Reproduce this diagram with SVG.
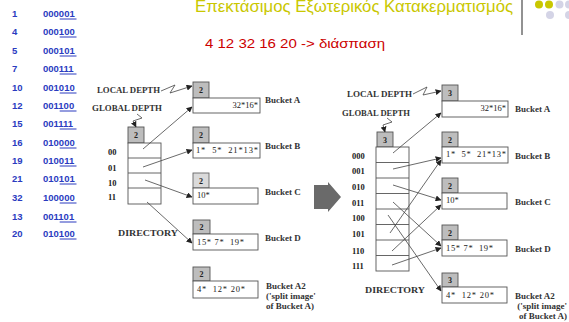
<svg xmlns="http://www.w3.org/2000/svg" width="569" height="322" viewBox="0 0 569 322">
<style>
.num{font-family:"Liberation Sans",Arial,sans-serif;font-weight:bold;font-size:9.5px;fill:#2a3bbf}
.ul{stroke:#2a3bbf;stroke-width:1}
.lbl{font-family:"Liberation Serif","Times New Roman",serif;font-weight:bold;font-size:7.5px;fill:#333}
.bk{font-family:"Liberation Serif","Times New Roman",serif;font-weight:bold;font-size:9px;fill:#333}
.dt{font-family:"Liberation Serif","Times New Roman",serif;font-size:8.5px;fill:#222;white-space:pre}
.dep{font-family:"Liberation Serif","Times New Roman",serif;font-weight:bold;font-size:8px;fill:#222;text-anchor:middle}
.dbox{fill:#bdbdbd;stroke:#555;stroke-width:0.9}
.dboxl{fill:#dadada;stroke:#666;stroke-width:0.9}
.box{fill:#fff;stroke:#555;stroke-width:0.9}
.arr{stroke:#444;stroke-width:0.8;fill:none;marker-end:url(#ah)}
.zz{stroke:#444;stroke-width:0.8;fill:none;marker-end:url(#ah)}
</style>
<defs>
<marker id="ah" viewBox="0 0 10 10" refX="9" refY="5" markerWidth="6" markerHeight="6" orient="auto" markerUnits="userSpaceOnUse">
<path d="M0,0 L10,5 L0,10 z" fill="#222"/>
</marker>
</defs>
<rect width="569" height="322" fill="#fff"/>

<g id="table">
<text class="num" x="12" y="16.5">1</text><text class="num" x="43" y="16.5">000001</text><line class="ul" x1="59.7" y1="19" x2="76.5" y2="19"/>
<text class="num" x="12" y="34.5">4</text><text class="num" x="43" y="34.5">000100</text><line class="ul" x1="59.7" y1="37" x2="76.5" y2="37"/>
<text class="num" x="12" y="53.5">5</text><text class="num" x="43" y="53.5">000101</text><line class="ul" x1="59.7" y1="56" x2="76.5" y2="56"/>
<text class="num" x="12" y="71.5">7</text><text class="num" x="43" y="71.5">000111</text><line class="ul" x1="59.7" y1="74" x2="76.5" y2="74"/>
<text class="num" x="12" y="90.5">10</text><text class="num" x="43" y="90.5">001010</text><line class="ul" x1="59.7" y1="93" x2="76.5" y2="93"/>
<text class="num" x="12" y="108.5">12</text><text class="num" x="43" y="108.5">001100</text><line class="ul" x1="59.7" y1="111" x2="76.5" y2="111"/>
<text class="num" x="12" y="126.5">15</text><text class="num" x="43" y="126.5">001111</text><line class="ul" x1="59.7" y1="129" x2="76.5" y2="129"/>
<text class="num" x="12" y="145.5">16</text><text class="num" x="43" y="145.5">010000</text><line class="ul" x1="59.7" y1="148" x2="76.5" y2="148"/>
<text class="num" x="12" y="163.5">19</text><text class="num" x="43" y="163.5">010011</text><line class="ul" x1="59.7" y1="166" x2="76.5" y2="166"/>
<text class="num" x="12" y="181.5">21</text><text class="num" x="43" y="181.5">010101</text><line class="ul" x1="59.7" y1="184" x2="76.5" y2="184"/>
<text class="num" x="12" y="200.5">32</text><text class="num" x="43" y="200.5">100000</text><line class="ul" x1="59.7" y1="203" x2="76.5" y2="203"/>
<text class="num" x="12" y="219.5">13</text><text class="num" x="43" y="219.5">001101</text><line class="ul" x1="59.7" y1="222" x2="76.5" y2="222"/>
<text class="num" x="12" y="236.5">20</text><text class="num" x="43" y="236.5">010100</text><line class="ul" x1="59.7" y1="239" x2="76.5" y2="239"/>
</g>

<g id="header">
<text x="195" y="11.5" font-family="'Liberation Sans',Arial,sans-serif" font-size="16" fill="#c9c700" textLength="318" lengthAdjust="spacingAndGlyphs">Επεκτάσιμος Εξωτερικός Κατακερματισμός</text>
<line x1="522" y1="0" x2="522" y2="35" stroke="#777" stroke-width="1.6"/>
<circle cx="539" cy="4.5" r="4" fill="#c9c700"/>
<circle cx="549" cy="4.5" r="4" fill="#c9c700"/>
<circle cx="559.5" cy="4.5" r="4" fill="#d4d4e6"/>
<circle cx="569" cy="4.5" r="4" fill="#d4d4e6"/>
<circle cx="550" cy="15" r="4" fill="#d4d4e6"/>
<circle cx="569" cy="15" r="4" fill="#d4d4e6"/>
<text x="205" y="48" font-family="'Liberation Sans',Arial,sans-serif" font-size="13.5" fill="#cc0000" textLength="180" lengthAdjust="spacingAndGlyphs">4 12 32 16 20 -&gt; διάσπαση</text>
</g>

<g id="left-labels">
<text class="lbl" x="97" y="93" textLength="63" lengthAdjust="spacingAndGlyphs">LOCAL DEPTH</text>
<text class="lbl" x="92" y="111" textLength="70" lengthAdjust="spacingAndGlyphs">GLOBAL DEPTH</text>
<text class="bk" x="118" y="236" textLength="60" lengthAdjust="spacingAndGlyphs">DIRECTORY</text>
<text class="dt" x="108" y="155" font-weight="bold">00</text>
<text class="dt" x="108" y="171" font-weight="bold">01</text>
<text class="dt" x="108" y="186" font-weight="bold">10</text>
<text class="dt" x="108" y="200" font-weight="bold">11</text>
</g>

<g id="left-directory">
<rect class="dbox" x="128" y="127" width="16" height="16"/>
<text class="dep" x="136" y="138">2</text>
<rect class="box" x="128" y="143" width="33" height="61"/>
<line x1="128" y1="158" x2="161" y2="158" stroke="#555" stroke-width="0.9"/>
<line x1="128" y1="173" x2="161" y2="173" stroke="#555" stroke-width="0.9"/>
<line x1="128" y1="188" x2="161" y2="188" stroke="#555" stroke-width="0.9"/>
</g>

<g id="left-bucket-a">
<rect class="dbox" x="193" y="82" width="16" height="16"/><text class="dep" x="201" y="93">2</text>
<rect class="box" x="193" y="98" width="67" height="15"/>
<text class="dt" x="258" y="108" text-anchor="end">32*16*</text>
<text class="bk" x="265" y="103">Bucket A</text>
</g>
<g id="left-bucket-b">
<rect class="dbox" x="193" y="127" width="16" height="16"/><text class="dep" x="201" y="138">2</text>
<rect class="box" x="193" y="143" width="67" height="15"/>
<text class="dt" x="196" y="153" textLength="62" lengthAdjust="spacing">1*  5*  21*13*</text>
<text class="bk" x="265" y="149">Bucket B</text>
</g>
<g id="left-bucket-c">
<rect class="dboxl" x="193" y="173" width="16" height="15"/><text class="dep" x="201" y="183.5">2</text>
<rect class="box" x="193" y="188" width="65" height="16"/>
<text class="dt" x="197" y="198">10*</text>
<text class="bk" x="265" y="195">Bucket C</text>
</g>
<g id="left-bucket-d">
<rect class="dbox" x="193" y="220" width="17" height="14"/><text class="dep" x="201.5" y="230">2</text>
<rect class="box" x="193" y="234" width="65" height="16"/>
<text class="dt" x="197" y="245" textLength="47" lengthAdjust="spacing">15* 7*  19*</text>
<text class="bk" x="265" y="241">Bucket D</text>
</g>
<g id="left-bucket-a2">
<rect class="dbox" x="193" y="267" width="17" height="14"/><text class="dep" x="201.5" y="277">2</text>
<rect class="box" x="193" y="281" width="65" height="17"/>
<text class="dt" x="197" y="292" textLength="48" lengthAdjust="spacing">4*  12* 20*</text>
<text class="bk" x="266" y="289">Bucket A2</text>
<text class="bk" x="266" y="299">('split image'</text>
<text class="bk" x="266" y="309">of Bucket A)</text>
</g>

<g id="big-arrow">
<path d="M314,185 L328,185 L328,182 L341,197 L328,212 L328,209 L314,209 z" fill="#6a6a6a"/>
</g>

<g id="right-labels">
<text class="lbl" x="347" y="97" textLength="65" lengthAdjust="spacingAndGlyphs">LOCAL DEPTH</text>
<text class="lbl" x="342" y="116" textLength="68" lengthAdjust="spacingAndGlyphs">GLOBAL DEPTH</text>
<text class="bk" x="365" y="293" textLength="60" lengthAdjust="spacingAndGlyphs">DIRECTORY</text>
<text class="dt" x="352" y="159" font-weight="bold">000</text>
<text class="dt" x="352" y="174" font-weight="bold">001</text>
<text class="dt" x="352" y="190" font-weight="bold">010</text>
<text class="dt" x="352" y="206" font-weight="bold">011</text>
<text class="dt" x="352" y="221" font-weight="bold">100</text>
<text class="dt" x="352" y="237" font-weight="bold">101</text>
<text class="dt" x="352" y="254" font-weight="bold">110</text>
<text class="dt" x="352" y="269" font-weight="bold">111</text>
</g>

<g id="right-directory">
<rect class="dbox" x="377" y="132" width="16" height="15"/>
<text class="dep" x="385" y="142.5">3</text>
<rect class="box" x="376" y="147" width="33" height="124"/>
<g stroke="#555" stroke-width="0.9">
<line x1="376" y1="162.5" x2="409" y2="162.5"/>
<line x1="376" y1="178" x2="409" y2="178"/>
<line x1="376" y1="193.5" x2="409" y2="193.5"/>
<line x1="376" y1="209" x2="409" y2="209"/>
<line x1="376" y1="224.5" x2="409" y2="224.5"/>
<line x1="376" y1="240" x2="409" y2="240"/>
<line x1="376" y1="255.5" x2="409" y2="255.5"/>
</g>
</g>

<g id="right-bucket-a">
<rect class="dbox" x="442" y="85" width="16" height="16"/><text class="dep" x="450" y="96">3</text>
<rect class="box" x="442" y="101" width="66" height="16"/>
<text class="dt" x="506" y="111" text-anchor="end">32*16*</text>
<text class="bk" x="515" y="112">Bucket A</text>
</g>
<g id="right-bucket-b">
<rect class="dbox" x="442" y="132" width="16" height="15"/><text class="dep" x="450" y="142.5">2</text>
<rect class="box" x="442" y="147" width="66" height="16"/>
<text class="dt" x="446" y="157" textLength="60" lengthAdjust="spacing">1*  5*  21*13*</text>
<text class="bk" x="515" y="159">Bucket B</text>
</g>
<g id="right-bucket-c">
<rect class="dbox" x="442" y="178" width="16" height="15"/><text class="dep" x="450" y="188.5">2</text>
<rect class="box" x="442" y="193" width="65" height="16"/>
<text class="dt" x="446" y="203">10*</text>
<text class="bk" x="515" y="205">Bucket C</text>
</g>
<g id="right-bucket-d">
<rect class="dbox" x="442" y="225" width="16" height="15"/><text class="dep" x="450" y="235.5">2</text>
<rect class="box" x="442" y="240" width="65" height="16"/>
<text class="dt" x="446" y="251" textLength="47" lengthAdjust="spacing">15* 7*  19*</text>
<text class="bk" x="515" y="252">Bucket D</text>
</g>
<g id="right-bucket-a2">
<rect class="dbox" x="442" y="273" width="16" height="14"/><text class="dep" x="450" y="283">3</text>
<rect class="box" x="442" y="287" width="65" height="16"/>
<text class="dt" x="446" y="298" textLength="48" lengthAdjust="spacing">4*  12* 20*</text>
<text class="bk" x="515" y="299">Bucket A2</text>
<text class="bk" x="567" y="309" text-anchor="end">('split image'</text>
<text class="bk" x="567" y="319" text-anchor="end">of Bucket A)</text>
</g>

<g id="connectors">
<polyline class="zz" points="161,91 175,85 170,93 192,86"/>
<polyline class="zz" points="137,114 142,118 133,121 136,127"/>
<line class="arr" x1="143" y1="149" x2="192" y2="107"/>
<line class="arr" x1="143" y1="167" x2="192" y2="150"/>
<line class="arr" x1="145" y1="180" x2="192" y2="197"/>
<line class="arr" x1="147" y1="202" x2="192" y2="243"/>

<polyline class="zz" points="413,94 427,87 423,95 441,91"/>
<polyline class="zz" points="387,118 392,122 383,125 385,132"/>
<line class="arr" x1="393" y1="153" x2="441" y2="113"/>
<line class="arr" x1="393" y1="169" x2="441" y2="158"/>
<line class="arr" x1="393" y1="185" x2="441" y2="200"/>
<line class="arr" x1="393" y1="202" x2="441" y2="246"/>
<line class="arr" x1="388" y1="215" x2="441" y2="291"/>
<line class="arr" x1="390" y1="233" x2="441" y2="160"/>
<line class="arr" x1="392" y1="251" x2="441" y2="205"/>
<line class="arr" x1="392" y1="265" x2="441" y2="248"/>
</g>
</svg>
